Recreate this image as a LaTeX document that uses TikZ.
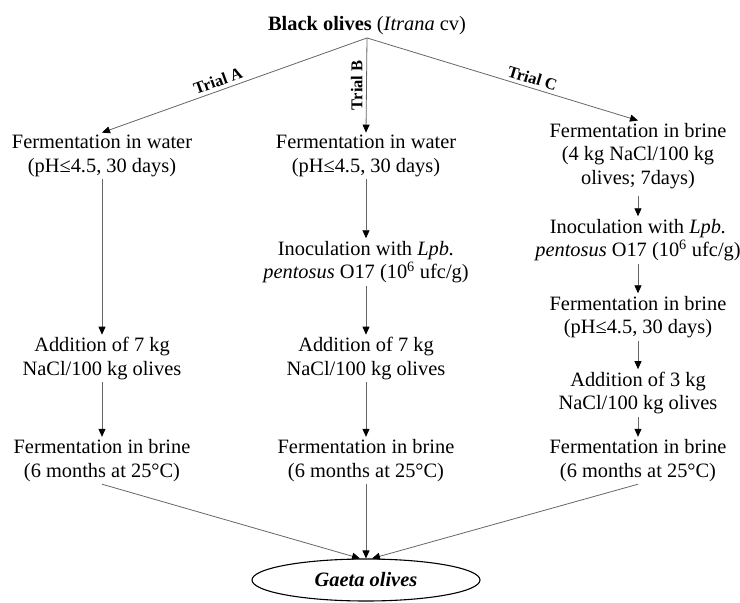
\documentclass[tikz,border=0pt]{standalone}
\usepackage{fontspec}
\setmainfont{Liberation Serif}
\usetikzlibrary{arrows.meta,shapes.geometric}
\begin{document}
\begin{tikzpicture}[x=1pt,y=-1pt,
  txt/.style={align=center, font=\fontsize{20.4}{23.5}\selectfont, inner sep=2.5pt},
  trial/.style={font=\fontsize{16.5}{18}\selectfont\bfseries, inner sep=3.5pt},
  conn/.style={draw=black!60, line width=0.8pt, -{Triangle[length=8pt,width=7pt,color=black]}},
  endbox/.style={ellipse, draw=black, line width=1.1pt, minimum width=228pt, minimum height=42pt, inner sep=0pt, font=\fontsize{20.4}{24}\selectfont\bfseries\itshape}
]
\useasboundingbox (0,0) rectangle (740,603);
\node[font=\fontsize{20.4}{24}\selectfont, inner sep=2.5pt] (top) at (367,26) {\textbf{Black olives} (\textit{Itrana} cv)};

% column A
\node[txt] (a1) at (102,156) {Fermentation in water\\(pH≤4.5, 30 days)};
\node[txt] (a2) at (102,358.5) {Addition of 7 kg\\NaCl/100 kg olives};
\node[txt] (a3) at (102,460.5) {Fermentation in brine\\(6 months at 25°C)};

% column B
\node[txt] (b1) at (366,156) {Fermentation in water\\(pH≤4.5, 30 days)};
\node[txt] (b2) at (366,262) {Inoculation with \textit{Lpb.}\\\textit{pentosus} O17 (10\textsuperscript{6} ufc/g)};
\node[txt] (b3) at (366,358.5) {Addition of 7 kg\\NaCl/100 kg olives};
\node[txt] (b4) at (366,460.5) {Fermentation in brine\\(6 months at 25°C)};

% column C
\node[txt] (c1) at (638,156) {Fermentation in brine\\(4 kg NaCl/100 kg\\olives; 7days)};
\node[txt] (c2) at (638,240) {Inoculation with \textit{Lpb.}\\\textit{pentosus} O17 (10\textsuperscript{6} ufc/g)};
\node[txt] (c3) at (638,317) {Fermentation in brine\\(pH≤4.5, 30 days)};
\node[txt] (c4) at (638,393) {Addition of 3 kg\\NaCl/100 kg olives};
\node[txt] (c5) at (638,460.5) {Fermentation in brine\\(6 months at 25°C)};

\node[endbox] (g) at (366,580) {Gaeta olives};

% trial branches
\draw[conn] (top.south) -- node[trial, sloped, above, pos=0.55] {Trial A} (a1.north);
\draw[conn] (top.south) -- node[trial, rotate=90, anchor=south, midway] {Trial B} (b1.north);
\draw[conn] (top.south) -- node[trial, sloped, above, pos=0.6] {Trial C} (c1.north);

% column arrows
\draw[conn] (a1) -- (a2);
\draw[conn] (a2) -- (a3);
\draw[conn] (b1) -- (b2);
\draw[conn] (b2) -- (b3);
\draw[conn] (b3) -- (b4);
\draw[conn, shorten <=5pt] (c1) -- (c2);
\draw[conn] (c2) -- (c3);
\draw[conn] (c3) -- (c4);
\draw[conn] (c4) -- (c5);

% into final
\draw[conn] (a3.south) -- ([xshift=-6pt]g.north);
\draw[conn] (b4.south) -- (g.north);
\draw[conn] (c5.south) -- ([xshift=6pt]g.north);
\end{tikzpicture}
\end{document}
